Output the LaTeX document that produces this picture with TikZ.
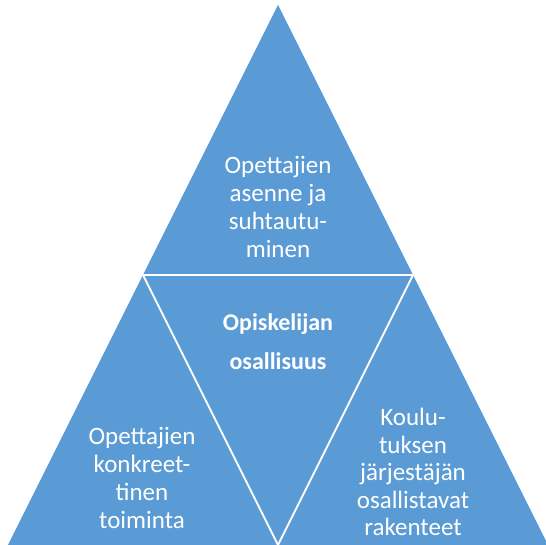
\documentclass[tikz,border=0pt]{standalone}
\usepackage{fontspec}
\setmainfont{Carlito}
\usetikzlibrary{calc}

\definecolor{pyramidblue}{HTML}{5B9BD5}

\begin{document}
\begin{tikzpicture}[x=1pt,y=1pt]
    % --- Dimensions ---
    \def\PicW{546}      % Picture width
    \def\PicH{545}      % Picture height
    \def\ApexX{278}     % x of the top corner
    \def\ApexY{540}     % y of the top corner
    \def\HalfBase{270}  % half of the base width

    % --- Styles ---
    \tikzset{
        part fill/.style={fill=pyramidblue},
        split line/.style={draw=white, line width=2pt},
        part text/.style={text=white, align=center, inner sep=0pt,
            font=\fontsize{25}{28}\selectfont},
        core text/.style={part text,
            font=\fontsize{24}{39}\selectfont\bfseries}
    }

    \useasboundingbox (0,0) rectangle (\PicW,\PicH);

    % =========================================================
    % 1) CORNERS
    % =========================================================
    \coordinate (apex)  at (\ApexX,\ApexY);
    \coordinate (left)  at (\ApexX-\HalfBase,0);
    \coordinate (right) at (\ApexX+\HalfBase,0);
    \coordinate (base)  at (\ApexX,0);
    \coordinate (midL)  at ($(apex)!0.5!(left)$);
    \coordinate (midR)  at ($(apex)!0.5!(right)$);

    % =========================================================
    % 2) BIG TRIANGLE AND SPLIT LINES
    % =========================================================
    \fill[part fill] (apex) -- (left) -- (right) -- cycle;

    \draw[split line] (midL) -- (midR);
    \draw[split line] (midL) -- (base);
    \draw[split line] (midR) -- (base);

    % =========================================================
    % 3) TEXT
    % =========================================================
    \node[part text] (attitude) at (\ApexX, 338) {
        Opettajien\\ asenne ja\\ suhtautu-\\ minen
    };

    \node[core text] (participation) at (\ApexX, 203) {
        Opiskelijan\\ osallisuus
    };

    \node[part text] (action) at (142, 67) {
        Opettajien\\ konkreet-\\ tinen\\ toiminta
    };

    \node[part text, font=\fontsize{25}{27.5}\selectfont]
        (structures) at (413, 73) {
        Koulu-\\ tuksen\\ järjestäjän\\ osallistavat\\ rakenteet
    };

\end{tikzpicture}
\end{document}
